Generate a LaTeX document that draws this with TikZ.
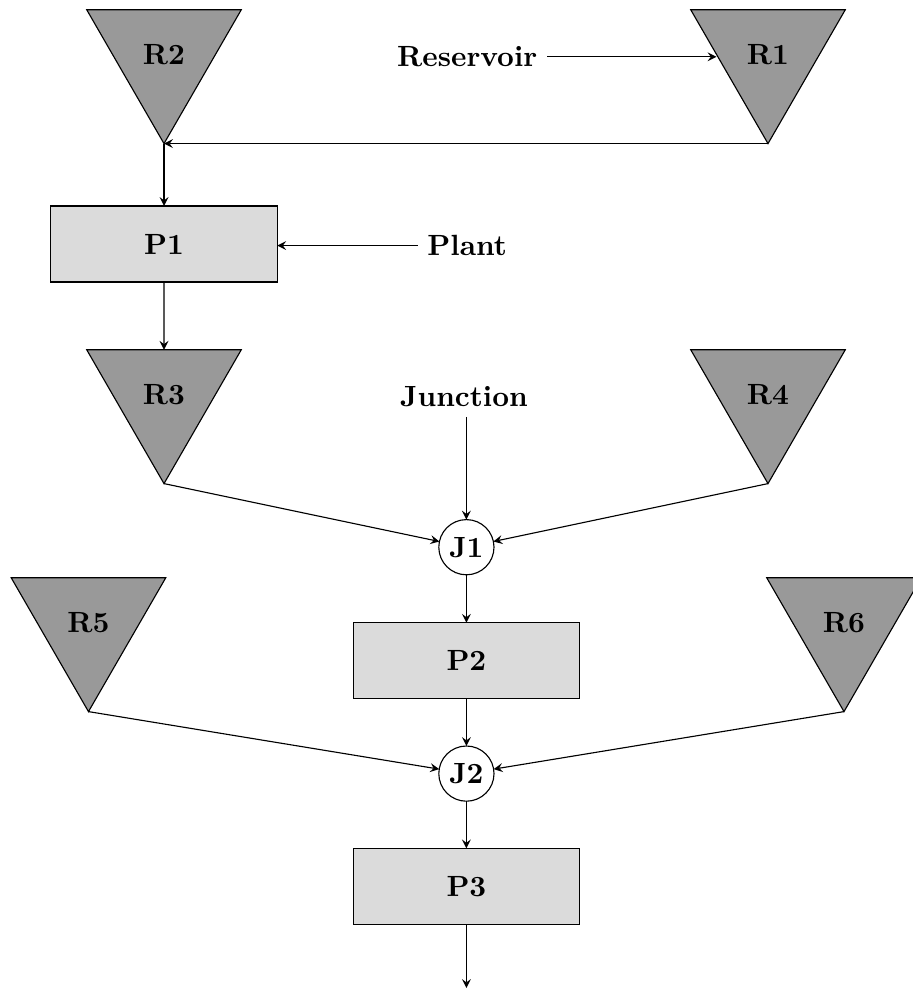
\documentclass[tikz,border=0pt]{standalone}
\usepackage{tikz}
\usepackage{xcolor}
\usetikzlibrary{shapes.geometric}
\definecolor{tankgray}{HTML}{999999}
\colorlet{plantgray}{tankgray!35!white}

\begin{document}
\begin{tikzpicture}[font=\bfseries\fontsize{10.4}{12.5}\selectfont, >=stealth,
    reservoir/.style={regular polygon, regular polygon sides=3, shape border rotate=180,
        draw, fill=tankgray, minimum size=2.23cm, inner sep=0, outer sep=0},
    plantbox/.style={draw, fill=plantgray, minimum width=2.83cm, minimum height=0.95cm,
        inner sep=0, outer sep=0},
    junctionnode/.style={circle, draw, minimum size=0.69cm, inner sep=0, outer sep=0}]
    \useasboundingbox (0, 0) rectangle (11.4, -12.475);
    \node[reservoir] (r2) at (2.05, -0.68) {R2};
    \node[reservoir] (r1) at (9.6, -0.68) {R1};
    \node (reslabel) at (5.84, -0.71) {Reservoir};
    \node[plantbox] (p1) at (2.05, -3.05) {P1};
    \node (plantlabel) at (5.84, -3.07) {Plant};
    \node[reservoir] (r3) at (2.05, -4.93) {R3};
    \node[reservoir] (r4) at (9.6, -4.93) {R4};
    \node (junclabel) at (5.80, -4.96) {Junction};
    \node[junctionnode] (j1) at (5.83, -6.84) {J1};
    \node[reservoir] (r5) at (1.106, -7.78) {R5};
    \node[reservoir] (r6) at (10.55, -7.78) {R6};
    \node[plantbox] (p2) at (5.83, -8.26) {P2};
    \node[junctionnode] (j2) at (5.83, -9.67) {J2};
    \node[plantbox] (p3) at (5.83, -11.08) {P3};
    \coordinate (out) at (5.83, -12.35);
    \draw[->] (reslabel) -- (reslabel -| r1.west);
    \draw[->] (r1.corner 1) -- (r2.corner 1);
    \draw[->] (r2.corner 1) -- (p1);
    \draw[->] (plantlabel) -- (plantlabel -| p1.east);
    \draw[->] (p1) -- (r3);
    \draw[->] (junclabel.south -| j1) -- (j1);
    \draw[->] (r3.corner 1) -- (j1);
    \draw[->] (r4.corner 1) -- (j1);
    \draw[->] (j1) -- (p2);
    \draw[->] (p2) -- (j2);
    \draw[->] (r5.corner 1) -- (j2);
    \draw[->] (r6.corner 1) -- (j2);
    \draw[->] (j2) -- (p3);
    \draw[->] (p3) -- (out);
\end{tikzpicture}
\end{document}
